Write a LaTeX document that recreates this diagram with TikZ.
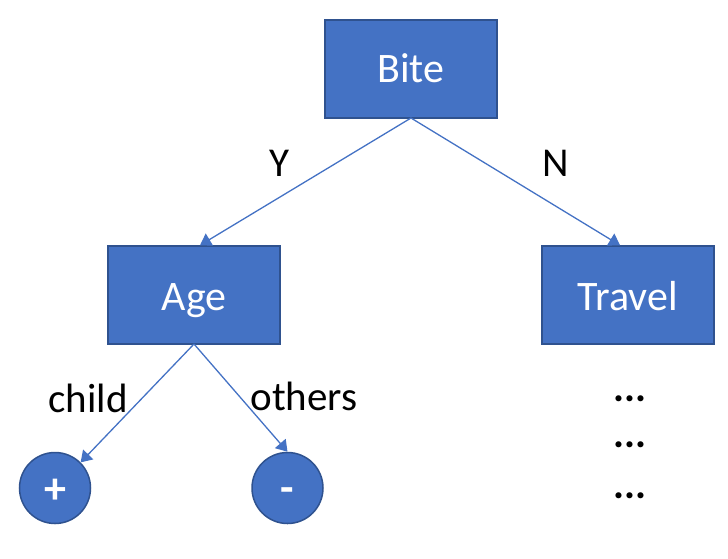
\documentclass[tikz,border=0pt]{standalone}
\usepackage{fontspec}
\setmainfont{Carlito}
\usetikzlibrary{arrows.meta}
\definecolor{boxfill}{HTML}{4472C4}
\definecolor{boxline}{HTML}{2F528F}
\newcommand{\mytxt}[2]{\raisebox{#1}[0pt][0pt]{#2}}
\begin{document}
\begin{tikzpicture}[x=1pt,y=-1pt,
  box/.style={draw=boxline,line width=1.5pt,fill=boxfill,minimum width=172pt,minimum height=98pt,inner sep=0pt,text=white,font=\fontsize{42}{44}\selectfont},
  leaf/.style={circle,draw=boxline,line width=1.5pt,fill=boxfill,minimum size=71pt,inner sep=0pt,text=white,font=\fontsize{44}{46}\selectfont},
  edge/.style={draw=boxfill,line width=1.3pt,-{Triangle[length=11pt,width=14pt]}},
  lab/.style={font=\fontsize{41}{43}\selectfont,text=black,inner sep=0pt}]
\useasboundingbox (0,0) rectangle (728,558);
\node[box] (bite) at (411,69) {\mytxt{-13pt}{Bite}};
\node[box] (age) at (194,295) {\mytxt{-15pt}{Age}};
\node[box] (travel) at (628,295) {\mytxt{-15pt}{Travel}};
\node[leaf] (plus) at (55,488) {\mytxt{-15pt}{\textbf{+}}};
\node[leaf] (minus) at (287.5,488) {\mytxt{-14pt}{\textbf{-}}};
\coordinate (bt) at (411,118);
\coordinate (ab) at (194,344);
\draw[edge] (bt) -- (age.north -| 200,0);
\draw[edge] (bt) -- (travel.north -| 620,0);
\draw[edge] (ab) -- (plus.north east);
\draw[edge] (ab) -- (minus.north);
\node[lab] (y) at (279,163) {Y};
\node[lab] (n) at (556,163) {N};
\node[lab] (child) at (88,398) {child};
\node[lab] (others) at (304,396) {others};
\node[lab] (d1) at (630,399) {\textbf{...}};
\node[lab] (d2) at (630,445) {\textbf{...}};
\node[lab] (d3) at (630,496) {\textbf{...}};
\end{tikzpicture}
\end{document}
